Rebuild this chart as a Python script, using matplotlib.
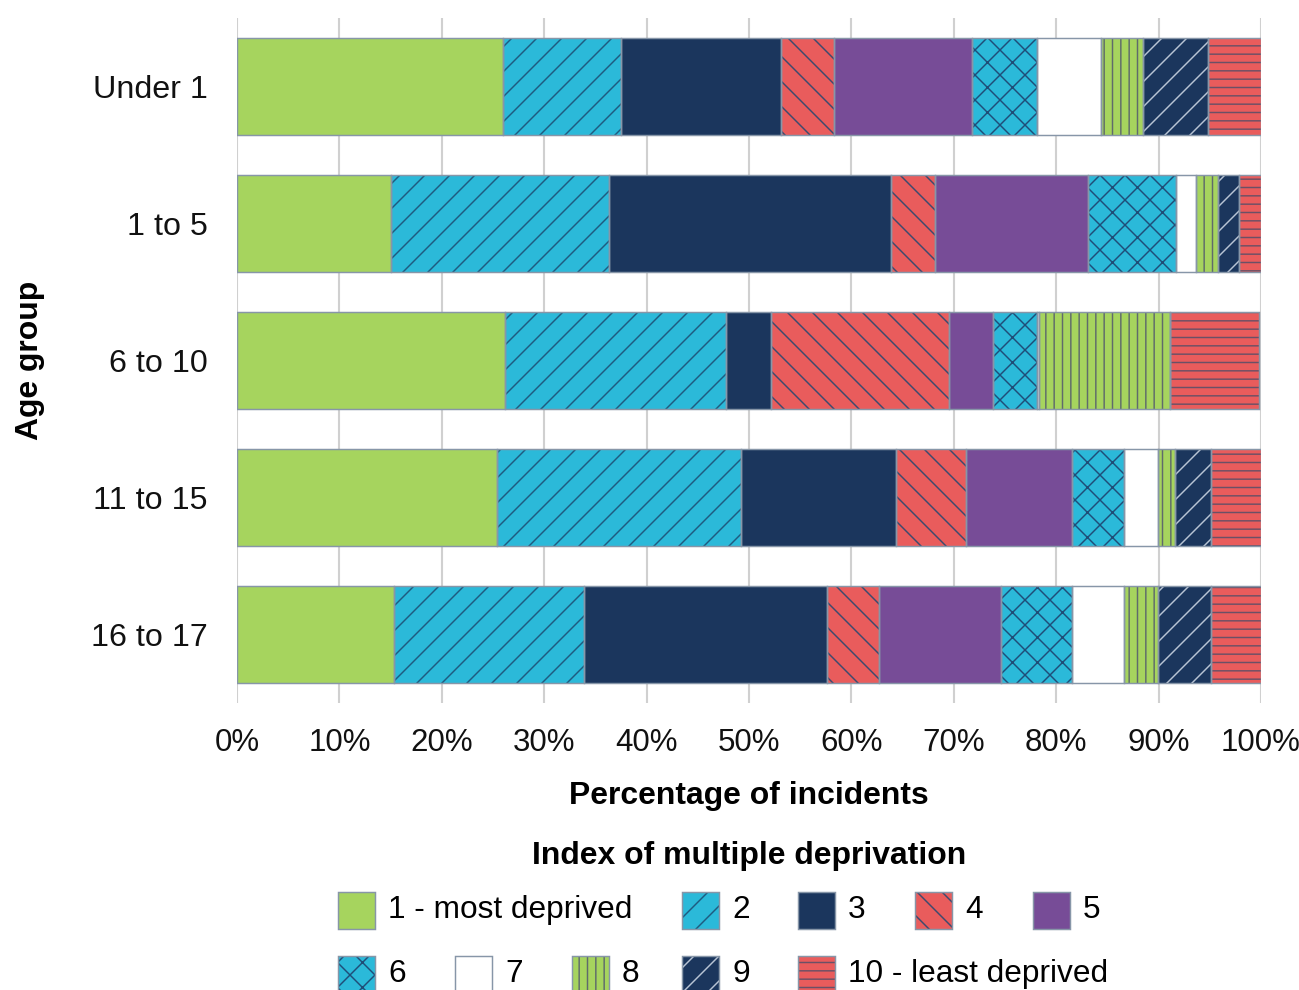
import numpy as np
import matplotlib
matplotlib.use('Agg')
import matplotlib.pyplot as plt
from matplotlib.patches import Rectangle

plt.rcParams['font.family'] = ['Liberation Sans', 'DejaVu Sans']
plt.rcParams['hatch.linewidth'] = 0.7

# age groups (top to bottom)
gruppi = ['Under 1', '1 to 5', '6 to 10', '11 to 15', '16 to 17']

# deprivation deciles
decili = ['1 - most deprived', '2', '3', '4', '5', '6', '7', '8', '9', '10 - least deprived']

# percentage of incidents for each decile (one list per decile, values per age group)
d1 = [26.0, 15.0, 26.2, 25.4, 15.3]
d2 = [11.5, 21.3, 21.6, 23.8, 18.6]
d3 = [15.6, 27.6, 4.3, 15.2, 23.7]
d4 = [5.2, 4.3, 17.4, 6.8, 5.1]
d5 = [13.5, 14.9, 4.3, 10.3, 11.9]
d6 = [6.3, 8.6, 4.3, 5.1, 6.9]
d7 = [6.3, 2.0, 0.2, 3.3, 5.1]
d8 = [4.1, 2.1, 12.8, 1.7, 3.3]
d9 = [6.3, 2.1, 0.0, 3.5, 5.2]
d10 = [5.2, 2.1, 8.7, 4.9, 4.9]
valori = [d1, d2, d3, d4, d5, d6, d7, d8, d9, d10]

# styles
colori = ['#A6D45E', '#2BB9D9', '#1B365D', '#E95C5C', '#774C97',
          '#2BB9D9', '#FFFFFF', '#A6D45E', '#1B365D', '#E95C5C']
tratteggi = [None, '//', None, '\\\\', None, 'xx', None, '|||', '//', '---']
col_tratteggio = ['#A6D45E', '#1E5B80', '#1B365D', '#3C4A6E', '#774C97',
                  '#1F4D78', '#FFFFFF', '#5F6B6B', '#B8C4D4', '#6B5066']
bordo = '#8796A8'

W, H = 1299, 990
fig = plt.figure(figsize=(W / 150, H / 150), dpi=150)
ax = fig.add_axes([237 / W, 1 - 703 / H, (1261 - 237) / W, (703 - 18) / H])

y = np.arange(len(gruppi))
sinistra = np.zeros(len(gruppi))
for i in range(len(decili)):
    v = np.array(valori[i])
    ax.barh(y, v, left=sinistra, height=0.71, color=colori[i], hatch=tratteggi[i],
            edgecolor=col_tratteggio[i], linewidth=0, zorder=2)
    ax.barh(y, v, left=sinistra, height=0.71, fill=False, edgecolor=bordo,
            linewidth=0.7, zorder=3)
    sinistra += v

ax.set_xlim(0, 100)
ax.set_ylim(len(gruppi) - 0.5, -0.5)
ax.set_xticks(np.arange(0, 101, 10))
ax.set_xticklabels([f'{t}%' for t in range(0, 101, 10)])
ax.set_yticks(y)
ax.set_yticklabels(gruppi)
ax.tick_params(axis='x', length=0, pad=12, labelsize=15, colors='#111111')
ax.tick_params(axis='y', length=0, pad=14, labelsize=15.5, colors='#111111')
for s in ax.spines.values():
    s.set_visible(False)
ax.grid(axis='x', color='#D0D0D0', linewidth=1, zorder=0)
ax.set_axisbelow(True)

ax.set_xlabel('Percentage of incidents', fontsize=15.3, fontweight='bold', labelpad=11)
ax.set_ylabel('Age group', fontsize=15.3, fontweight='bold', labelpad=22)

# legend drawn by hand (Excel-like flow layout)
fig.text(749 / W, 1 - 856 / H, 'Index of multiple deprivation', ha='center', va='center',
         fontsize=15.3, fontweight='bold')
posizioni = [(338, 910), (682, 910), (798, 910), (915, 910), (1033, 910),
             (338, 974), (455, 974), (572, 974), (682, 974), (798, 974)]
lato = 37
for i, (px, py) in enumerate(posizioni):
    r = Rectangle((px / W, 1 - (py + lato / 2) / H), lato / W, lato / H,
                  transform=fig.transFigure, facecolor=colori[i], hatch=tratteggi[i],
                  edgecolor=col_tratteggio[i], linewidth=0)
    fig.add_artist(r)
    r2 = Rectangle((px / W, 1 - (py + lato / 2) / H), lato / W, lato / H,
                   transform=fig.transFigure, fill=False, edgecolor=bordo, linewidth=0.7)
    fig.add_artist(r2)
    fig.text((px + 50) / W, 1 - py / H, decili[i], ha='left', va='center', fontsize=15.2)

fig.savefig('out.png', dpi=150)
